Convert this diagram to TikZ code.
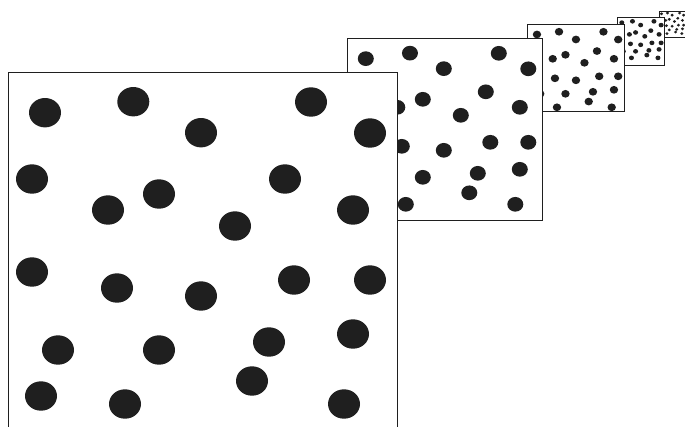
\documentclass[tikz,border=0pt]{standalone}
\begin{document}
\begin{tikzpicture}[x=1pt,y=-1pt,
  frame/.style={draw=black!88,line width=0.9pt,fill=white},
  blob/.style={fill=black!88}]
\useasboundingbox (0,0) rectangle (685,426);
\newcommand\mydots[1]{%
  \foreach \px/\py in {37/40.7,125.3/29.7,193/60.7,303/30,362/61,
    24/107,100/138,151/122,277/107,227/154,345/138,
    24/200,109/216,193/224,286/208,362/208,
    50/278,151/278,261/270,345/262,244/309,
    33/324,117/332,336/332}
    {\fill[blob] (\px,\py) ellipse ({16*#1} and {14.7*#1});}}
\begin{scope}
\clip (0,0) rectangle (685,426);
% fifth (farthest)
\draw[frame] (659,11) rectangle (690,37.7);
\begin{scope}[shift={(659,11)},scale=0.068]\mydots{1.5}\end{scope}
% fourth
\draw[frame] (617.3,17.7) rectangle (664.3,65);
\begin{scope}[shift={(617.3,17.7)},scale=0.121]\mydots{1.3}\end{scope}
% third
\draw[frame] (527.7,24.3) rectangle (624.5,111.7);
\begin{scope}[shift={(527.7,24.3)},scale=0.25]\mydots{1.05}\end{scope}
% second
\draw[frame] (347.3,38.3) rectangle (542,220);
\begin{scope}[shift={(347.3,38.3)},scale=0.5]\mydots{1}\end{scope}
% big (front)
\draw[frame] (8,72) rectangle (397,440);
\begin{scope}[shift={(8,72)}]\mydots{1}\end{scope}
\end{scope}
\end{tikzpicture}
\end{document}
